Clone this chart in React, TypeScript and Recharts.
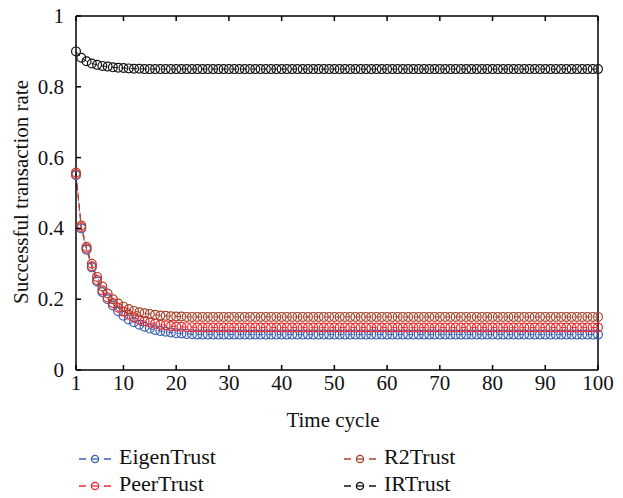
import { Line, LineChart, XAxis, YAxis } from "recharts";

const timeCycles = [
  1, 2, 3, 4, 5, 6, 7, 8, 9, 10, 11, 12, 13, 14, 15, 16, 17, 18, 19, 20,
  21, 22, 23, 24, 25, 26, 27, 28, 29, 30, 31, 32, 33, 34, 35, 36, 37, 38, 39, 40,
  41, 42, 43, 44, 45, 46, 47, 48, 49, 50, 51, 52, 53, 54, 55, 56, 57, 58, 59, 60,
  61, 62, 63, 64, 65, 66, 67, 68, 69, 70, 71, 72, 73, 74, 75, 76, 77, 78, 79, 80,
  81, 82, 83, 84, 85, 86, 87, 88, 89, 90, 91, 92, 93, 94, 95, 96, 97, 98, 99, 100,
];

const eigenTrust = [
  0.55, 0.4, 0.34, 0.29, 0.25, 0.22, 0.2, 0.182, 0.166, 0.153, 0.143, 0.135, 0.128, 0.122, 0.117, 0.113, 0.11, 0.108, 0.106, 0.104,
  0.103, 0.102, 0.101, 0.1, 0.1, 0.1, 0.1, 0.1, 0.1, 0.1, 0.1, 0.1, 0.1, 0.1, 0.1, 0.1, 0.1, 0.1, 0.1, 0.1,
  0.1, 0.1, 0.1, 0.1, 0.1, 0.1, 0.1, 0.1, 0.1, 0.1, 0.1, 0.1, 0.1, 0.1, 0.1, 0.1, 0.1, 0.1, 0.1, 0.1,
  0.1, 0.1, 0.1, 0.1, 0.1, 0.1, 0.1, 0.1, 0.1, 0.1, 0.1, 0.1, 0.1, 0.1, 0.1, 0.1, 0.1, 0.1, 0.1, 0.1,
  0.1, 0.1, 0.1, 0.1, 0.1, 0.1, 0.1, 0.1, 0.1, 0.1, 0.1, 0.1, 0.1, 0.1, 0.1, 0.1, 0.1, 0.1, 0.1, 0.1,
];

const peerTrust = [
  0.553, 0.403, 0.343, 0.293, 0.254, 0.225, 0.205, 0.189, 0.176, 0.165, 0.156, 0.149, 0.143, 0.138, 0.134, 0.131, 0.128, 0.126, 0.124, 0.123,
  0.122, 0.121, 0.121, 0.12, 0.12, 0.12, 0.12, 0.12, 0.12, 0.12, 0.12, 0.12, 0.12, 0.12, 0.12, 0.12, 0.12, 0.12, 0.12, 0.12,
  0.12, 0.12, 0.12, 0.12, 0.12, 0.12, 0.12, 0.12, 0.12, 0.12, 0.12, 0.12, 0.12, 0.12, 0.12, 0.12, 0.12, 0.12, 0.12, 0.12,
  0.12, 0.12, 0.12, 0.12, 0.12, 0.12, 0.12, 0.12, 0.12, 0.12, 0.12, 0.12, 0.12, 0.12, 0.12, 0.12, 0.12, 0.12, 0.12, 0.12,
  0.12, 0.12, 0.12, 0.12, 0.12, 0.12, 0.12, 0.12, 0.12, 0.12, 0.12, 0.12, 0.12, 0.12, 0.12, 0.12, 0.12, 0.12, 0.12, 0.12,
];

const r2Trust = [
  0.558, 0.408, 0.348, 0.3, 0.263, 0.236, 0.216, 0.2, 0.188, 0.179, 0.172, 0.167, 0.163, 0.16, 0.158, 0.156, 0.154, 0.153, 0.152, 0.151,
  0.151, 0.15, 0.15, 0.15, 0.15, 0.15, 0.15, 0.15, 0.15, 0.15, 0.15, 0.15, 0.15, 0.15, 0.15, 0.15, 0.15, 0.15, 0.15, 0.15,
  0.15, 0.15, 0.15, 0.15, 0.15, 0.15, 0.15, 0.15, 0.15, 0.15, 0.15, 0.15, 0.15, 0.15, 0.15, 0.15, 0.15, 0.15, 0.15, 0.15,
  0.15, 0.15, 0.15, 0.15, 0.15, 0.15, 0.15, 0.15, 0.15, 0.15, 0.15, 0.15, 0.15, 0.15, 0.15, 0.15, 0.15, 0.15, 0.15, 0.15,
  0.15, 0.15, 0.15, 0.15, 0.15, 0.15, 0.15, 0.15, 0.15, 0.15, 0.15, 0.15, 0.15, 0.15, 0.15, 0.15, 0.15, 0.15, 0.15, 0.15,
];

const irTrust = [
  0.9, 0.882, 0.872, 0.866, 0.862, 0.859, 0.857, 0.855, 0.854, 0.853, 0.852, 0.851, 0.851, 0.85, 0.85, 0.85, 0.85, 0.85, 0.85, 0.85,
  0.85, 0.85, 0.85, 0.85, 0.85, 0.85, 0.85, 0.85, 0.85, 0.85, 0.85, 0.85, 0.85, 0.85, 0.85, 0.85, 0.85, 0.85, 0.85, 0.85,
  0.85, 0.85, 0.85, 0.85, 0.85, 0.85, 0.85, 0.85, 0.85, 0.85, 0.85, 0.85, 0.85, 0.85, 0.85, 0.85, 0.85, 0.85, 0.85, 0.85,
  0.85, 0.85, 0.85, 0.85, 0.85, 0.85, 0.85, 0.85, 0.85, 0.85, 0.85, 0.85, 0.85, 0.85, 0.85, 0.85, 0.85, 0.85, 0.85, 0.85,
  0.85, 0.85, 0.85, 0.85, 0.85, 0.85, 0.85, 0.85, 0.85, 0.85, 0.85, 0.85, 0.85, 0.85, 0.85, 0.85, 0.85, 0.85, 0.85, 0.85,
];

const xTicks = [1, 10, 20, 30, 40, 50, 60, 70, 80, 90, 100];
const yTicks = [0, 0.2, 0.4, 0.6, 0.8, 1];

const series = [
  { key: "eigen", name: "EigenTrust", values: eigenTrust, color: "#3d5fb0" },
  { key: "peer", name: "PeerTrust", values: peerTrust, color: "#ec2a2e" },
  { key: "r2", name: "R2Trust", values: r2Trust, color: "#a6432c" },
  { key: "ir", name: "IRTrust", values: irTrust, color: "#111111" },
];

const rows = timeCycles.map((t, i) => {
  const row: Record<string, number> = { t };
  series.forEach((s) => (row[s.key] = s.values[i]));
  return row;
});

const FONT = '"Liberation Serif", "DejaVu Serif", serif';
const textStyle = { fontFamily: FONT, fontSize: 21 };
const axisLine = { stroke: "#000", strokeWidth: 1.5 };

function XTick({ x, y, payload }: any) {
  return (
    <g>
      <line x1={x} x2={x} y1={y} y2={y - 5} stroke="#000" strokeWidth={1.5} />
      <text x={x} y={y + 20} textAnchor="middle" style={textStyle} fill="#111">
        {payload.value}
      </text>
    </g>
  );
}

function TopTick({ x, y }: any) {
  return <line x1={x} x2={x} y1={y} y2={y + 5} stroke="#000" strokeWidth={1.5} />;
}

function YTick({ x, y, payload }: any) {
  return (
    <g>
      <line x1={x} x2={x + 5} y1={y} y2={y} stroke="#000" strokeWidth={1.5} />
      <text x={x - 12} y={y + 7} textAnchor="end" style={textStyle} fill="#111">
        {payload.value}
      </text>
    </g>
  );
}

function RightTick({ x, y }: any) {
  return <line x1={x} x2={x - 5} y1={y} y2={y} stroke="#000" strokeWidth={1.5} />;
}

function LegendIcon({ color }: { color: string }) {
  return (
    <svg width={36} height={12} style={{ verticalAlign: "middle" }}>
      <line x1={2} x2={9} y1={6} y2={6} stroke={color} strokeWidth={1.5} />
      <circle cx={18} cy={6} r={3.6} fill="none" stroke={color} strokeWidth={1.3} />
      <line x1={14.5} x2={21.5} y1={6} y2={6} stroke={color} strokeWidth={1.3} />
      <line x1={27} x2={34} y1={6} y2={6} stroke={color} strokeWidth={1.5} />
    </svg>
  );
}

export default function App() {
  const legendPos = [
    { left: 77, top: 445 },
    { left: 77, top: 472 },
    { left: 342, top: 445 },
    { left: 342, top: 472 },
  ];
  return (
    <div style={{ position: "absolute", left: 0, top: 0, width: 623, height: 498, background: "#fff", fontFamily: FONT }}>
      <LineChart
        width={623}
        height={498}
        data={rows}
        margin={{ top: 15, right: 24, bottom: 68, left: 30 }}
        style={{ fontFamily: FONT }}
      >
        <XAxis
          dataKey="t"
          type="number"
          domain={[1, 100]}
          ticks={xTicks}
          tickSize={0}
          tickMargin={0}
          tickLine={false}
          tick={<XTick />}
          height={60}
          axisLine={axisLine}
          label={{
            content: () => (
              <text x={333} y={427} textAnchor="middle" style={textStyle} fill="#111">
                Time cycle
              </text>
            ),
          }}
        />
        <XAxis
          xAxisId="top"
          orientation="top"
          dataKey="t"
          type="number"
          domain={[1, 100]}
          ticks={xTicks}
          tickSize={0}
          tickMargin={0}
          tickLine={false}
          tick={<TopTick />}
          height={1}
          axisLine={axisLine}
        />
        <YAxis
          type="number"
          domain={[0, 1]}
          ticks={yTicks}
          tickSize={0}
          tickMargin={0}
          tickLine={false}
          tick={<YTick />}
          width={46}
          axisLine={axisLine}
          label={{
            content: () => (
              <text x={28} y={192} transform="rotate(-90 28 192)" textAnchor="middle" style={textStyle} fill="#111">
                Successful transaction rate
              </text>
            ),
          }}
        />
        <YAxis
          yAxisId="right"
          orientation="right"
          type="number"
          domain={[0, 1]}
          ticks={yTicks}
          tickSize={0}
          tickMargin={0}
          tickLine={false}
          tick={<RightTick />}
          width={1}
          axisLine={axisLine}
        />
        {series.map((s) => (
          <Line
            key={s.key}
            dataKey={s.key}
            name={s.name}
            stroke={s.color}
            strokeWidth={1}
            strokeDasharray="6 4"
            dot={{ r: 4.4, fill: "none", stroke: s.color, strokeWidth: 1.2, strokeDasharray: "0" }}
            isAnimationActive={false}
          />
        ))}
      </LineChart>
      {series.map((s, i) => (
        <div
          key={s.key}
          style={{
            position: "absolute",
            left: legendPos[i].left,
            top: legendPos[i].top,
            fontFamily: FONT,
            fontSize: 22,
            color: "#111",
            whiteSpace: "nowrap",
            lineHeight: "24px",
          }}
        >
          <LegendIcon color={s.color} />
          <span style={{ marginLeft: 6 }}>{s.name}</span>
        </div>
      ))}
    </div>
  );
}
